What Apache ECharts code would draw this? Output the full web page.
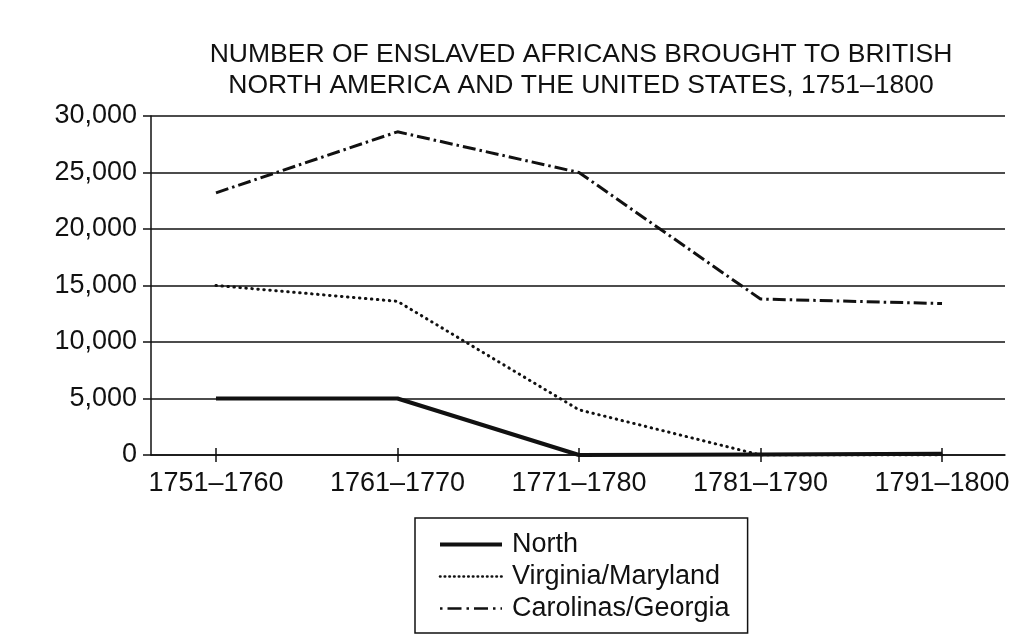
<!DOCTYPE html>
<html>
<head>
<meta charset="utf-8">
<script src="https://cdn.jsdelivr.net/npm/echarts@6/dist/echarts.min.js"></script>
<style>html,body{margin:0;padding:0;background:#fff;}#c{width:1018px;height:641px;}</style>
</head>
<body>
<div id="c"></div>
<script>
var categories = ['1751\u20131760', '1761\u20131770', '1771\u20131780', '1781\u20131790', '1791\u20131800'];
var north = [5000, 5000, 0, 50, 100];
var virginiaMaryland = [15000, 13600, 4000, 0, 0];
var carolinasGeorgia = [23200, 28600, 25000, 13800, 13400];
var yTicks = [0, 5000, 10000, 15000, 20000, 25000, 30000];

function pairs(arr) { return arr.map(function (v, i) { return [i, v]; }); }
var idx = categories.map(function (c, i) { return i; });
var FONT = '"Liberation Sans", Arial, Helvetica, sans-serif';
var INK = '#111';

var chart = echarts.init(document.getElementById('c'));
chart.setOption({
  animation: false,
  backgroundColor: '#fff',
  textStyle: { fontFamily: FONT, color: INK },
  title: {
    text: 'NUMBER OF ENSLAVED AFRICANS BROUGHT TO BRITISH\nNORTH AMERICA AND THE UNITED STATES, 1751\u20131800',
    left: 576, textAlign: 'center', top: 33.5,
    textStyle: { fontFamily: FONT, fontSize: 26.5, fontWeight: 'normal', color: INK, lineHeight: 31.5 }
  },
  legend: {
    orient: 'vertical', left: 415, top: 518,
    padding: [13, 18, 11, 23],
    borderColor: INK, borderWidth: 1.5,
    itemWidth: 62, itemHeight: 26, itemGap: 5,
    itemStyle: { opacity: 0 },
    textStyle: { fontFamily: FONT, fontSize: 27, color: INK, lineHeight: 26, padding: [0, 0, 0, 5] },
    data: [
      { name: 'North', lineStyle: { width: 4, color: INK, type: 'solid' } },
      { name: 'Virginia/Maryland', lineStyle: { width: 2.6, color: INK, type: [0.5, 4.2], cap: 'round' } },
      { name: 'Carolinas/Georgia', lineStyle: { width: 2.5, color: INK, type: [2.5, 5, 14, 5] } }
    ]
  },
  grid: { left: 151, right: 13, top: 116, bottom: 186, containLabel: false },
  xAxis: [{
    type: 'value', min: -0.358, max: 4.347,
    axisLine: { show: true, onZero: false, lineStyle: { color: INK, width: 1.5 } },
    axisTick: { show: true, customValues: idx, inside: false, length: 7, lineStyle: { color: INK, width: 1.5 } },
    axisLabel: { customValues: idx, margin: 15, fontFamily: FONT, fontSize: 27, color: INK,
      formatter: function (v) { return categories[Math.round(v)]; } },
    splitLine: { show: false }
  }, {
    type: 'value', min: -0.358, max: 4.347, position: 'bottom',
    axisLine: { show: false, onZero: false },
    axisTick: { show: true, customValues: idx, inside: true, length: 7, lineStyle: { color: INK, width: 1.5 } },
    axisLabel: { show: false },
    splitLine: { show: false }
  }],
  yAxis: {
    type: 'value', min: 0, max: 30000, interval: 5000,
    axisLine: { show: true, onZero: false, lineStyle: { color: INK, width: 1.5 } },
    axisTick: { show: true, inside: false, length: 8, lineStyle: { color: INK, width: 1.5 } },
    axisLabel: { margin: 14, fontFamily: FONT, fontSize: 27, color: INK,
      formatter: function (v) { return yTicks.indexOf(v) >= 0 ? v.toLocaleString('en-US') : ''; } },
    splitLine: { show: true, lineStyle: { color: INK, width: 1.5 } }
  },
  series: [{
    name: 'North', type: 'line', data: pairs(north), symbol: 'none', z: 5,
    itemStyle: { color: INK },
    lineStyle: { color: INK, width: 4, type: 'solid' }
  }, {
    name: 'Virginia/Maryland', type: 'line', data: pairs(virginiaMaryland), symbol: 'none', z: 4,
    itemStyle: { color: INK },
    lineStyle: { color: INK, width: 3, type: [0.5, 5.5], cap: 'round' }
  }, {
    name: 'Carolinas/Georgia', type: 'line', data: pairs(carolinasGeorgia), symbol: 'none', z: 4,
    itemStyle: { color: INK },
    lineStyle: { color: INK, width: 3, type: [13, 4, 2.5, 4] }
  }]
});
</script>
</body>
</html>
